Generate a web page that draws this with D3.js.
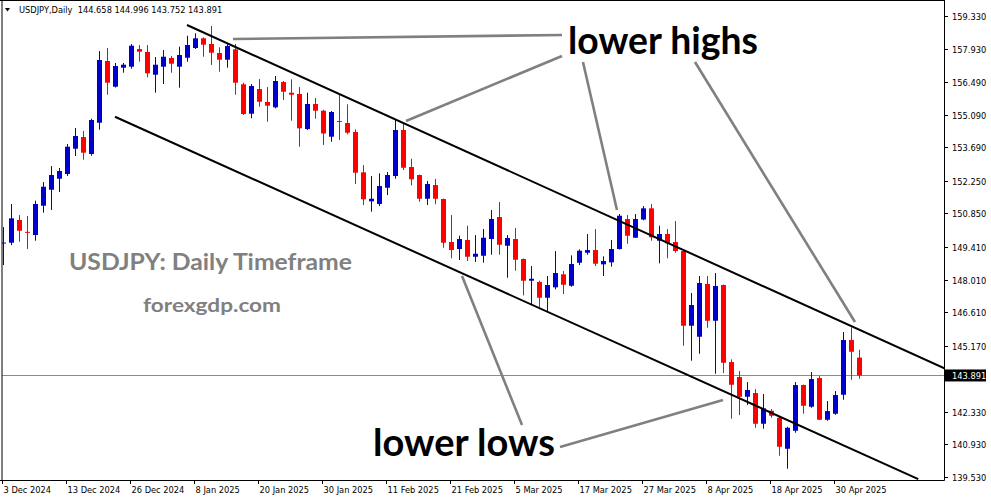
<!DOCTYPE html>
<html><head><meta charset="utf-8">
<script src="https://cdn.jsdelivr.net/npm/d3@7/dist/d3.min.js"></script>
<style>
html,body{margin:0;padding:0;background:#fff;}
svg{display:block;}
</style></head>
<body><svg id="c" width="991" height="501"></svg>
<script>
// ---- DATA ----
const dates = [
"2024-12-03","2024-12-04","2024-12-05","2024-12-06","2024-12-09","2024-12-10","2024-12-11","2024-12-12","2024-12-13","2024-12-16",
"2024-12-17","2024-12-18","2024-12-19","2024-12-20","2024-12-23","2024-12-24","2024-12-26","2024-12-27","2024-12-30","2024-12-31",
"2025-01-02","2025-01-03","2025-01-06","2025-01-07","2025-01-08","2025-01-09","2025-01-10","2025-01-13","2025-01-14","2025-01-15",
"2025-01-16","2025-01-17","2025-01-20","2025-01-21","2025-01-22","2025-01-23","2025-01-24","2025-01-27","2025-01-28","2025-01-29",
"2025-01-30","2025-01-31","2025-02-03","2025-02-04","2025-02-05","2025-02-06","2025-02-07","2025-02-10","2025-02-11","2025-02-12",
"2025-02-13","2025-02-14","2025-02-17","2025-02-18","2025-02-19","2025-02-20","2025-02-21","2025-02-24","2025-02-25","2025-02-26",
"2025-02-27","2025-02-28","2025-03-03","2025-03-04","2025-03-05","2025-03-06","2025-03-07","2025-03-10","2025-03-11","2025-03-12",
"2025-03-13","2025-03-14","2025-03-17","2025-03-18","2025-03-19","2025-03-20","2025-03-21","2025-03-24","2025-03-25","2025-03-26",
"2025-03-27","2025-03-28","2025-03-31","2025-04-01","2025-04-02","2025-04-03","2025-04-04","2025-04-07","2025-04-08","2025-04-09",
"2025-04-10","2025-04-11","2025-04-14","2025-04-15","2025-04-16","2025-04-17","2025-04-18","2025-04-21","2025-04-22","2025-04-23",
"2025-04-24","2025-04-25","2025-04-28","2025-04-29","2025-04-30","2025-05-01","2025-05-02","2025-05-05"];

const open = [
149.557,149.592,150.567,150.060,149.923,151.181,151.868,152.341,152.543,153.630,
154.132,153.402,154.746,157.397,156.293,157.109,157.152,157.912,157.783,156.808,
157.152,157.526,157.152,157.538,157.955,158.372,158.127,157.740,157.453,157.899,
156.396,155.133,156.194,155.636,155.408,156.495,156.035,155.979,154.476,155.550,
155.262,154.145,154.819,154.734,154.347,152.616,151.370,151.254,151.954,152.457,
154.433,152.844,152.500,151.482,152.070,151.469,149.622,149.321,149.708,148.990,
149.033,149.751,150.696,149.463,149.751,148.892,147.960,147.904,147.229,147.676,
148.234,147.745,148.733,149.162,149.278,148.664,148.750,149.321,150.610,149.807,
150.588,151.069,149.678,149.966,149.622,149.235,146.027,145.554,147.818,146.241,
147.775,144.467,143.823,142.977,143.136,141.817,142.375,142.075,140.743,141.516,
143.479,142.547,143.780,141.989,142.247,143.063,145.412,144.658];

const high = [
150.266,151.254,150.782,150.739,151.396,152.199,152.886,152.801,153.831,154.519,
154.390,154.918,157.826,157.955,157.311,157.311,158.127,158.084,158.084,157.569,
157.869,157.612,158.011,158.483,158.587,158.415,158.900,157.985,158.157,158.127,
156.465,156.409,156.624,156.280,156.752,156.538,156.611,156.280,156.035,155.807,
155.305,155.249,155.936,155.537,154.463,152.929,152.457,152.573,152.629,154.862,
154.721,153.200,152.521,152.242,152.328,151.490,150.782,149.892,150.322,149.923,
150.180,150.996,151.340,149.923,150.223,148.913,148.591,147.960,148.161,149.235,
148.376,149.050,149.308,149.966,150.180,149.008,149.708,150.825,150.782,150.825,
151.168,151.254,150.322,150.180,150.524,149.257,147.431,148.161,148.161,148.290,
147.796,144.583,144.081,143.608,143.308,143.093,142.448,142.118,141.688,143.608,
143.501,144.038,143.866,142.792,143.222,145.756,145.958,144.996];

const low = [
148.634,149.493,149.635,149.321,149.678,150.880,150.996,151.770,152.457,153.316,
153.157,153.329,154.446,155.949,156.258,156.894,157.066,157.367,156.697,156.035,
156.409,156.894,156.250,157.367,157.912,157.581,157.225,156.937,157.109,155.949,
155.077,154.935,155.434,154.789,155.365,155.721,154.832,153.715,154.433,154.918,
153.789,153.930,154.003,154.248,152.113,151.211,150.924,151.168,151.641,152.341,
152.715,152.057,151.353,151.211,151.241,149.377,148.922,148.849,148.806,148.763,
148.733,149.076,149.076,148.088,148.389,147.332,146.959,146.817,146.615,147.590,
147.388,147.702,148.634,149.076,148.591,148.161,148.561,149.300,149.549,149.794,
150.554,149.678,148.707,148.922,149.162,145.167,144.523,144.824,145.941,143.965,
143.995,142.032,142.191,142.620,141.645,141.602,142.075,140.442,139.884,141.430,
142.247,142.504,141.976,141.946,142.203,142.848,143.707,143.752];

const close = [
149.600,150.640,150.107,150.030,151.254,151.997,152.500,152.672,153.715,154.175,
153.458,154.862,157.440,156.465,157.182,157.238,158.054,157.796,156.868,157.238,
157.581,157.281,157.654,158.084,158.372,158.097,157.753,157.453,158.041,156.465,
155.120,156.323,155.648,155.477,156.538,156.078,155.949,154.506,155.550,155.262,
154.283,155.206,154.794,154.317,152.599,151.456,151.482,152.027,152.500,154.433,
152.813,152.315,151.482,152.113,151.482,149.592,149.278,149.751,148.990,149.119,
149.807,150.610,149.506,149.794,148.862,147.960,148.045,147.229,147.775,148.290,
147.788,148.677,149.248,149.278,148.690,148.806,149.321,150.752,149.892,150.610,
151.069,149.824,149.966,149.566,149.235,146.027,146.916,147.861,146.241,147.732,
144.437,143.492,142.977,143.265,141.817,142.478,142.161,140.829,141.645,143.479,
142.590,143.737,141.989,142.362,143.050,145.412,144.910,143.891];

const timeTickLabels = ["3 Dec 2024","13 Dec 2024","26 Dec 2024","8 Jan 2025","20 Jan 2025","30 Jan 2025",
  "11 Feb 2025","21 Feb 2025","5 Mar 2025","17 Mar 2025","27 Mar 2025","8 Apr 2025","18 Apr 2025","30 Apr 2025"];
const timeTickDates = ["2024-12-03","2024-12-13","2024-12-26","2025-01-08","2025-01-20","2025-01-30",
  "2025-02-11","2025-02-21","2025-03-05","2025-03-17","2025-03-27","2025-04-08","2025-04-18","2025-04-30"];
const priceTicks = [159.330,157.930,156.490,155.090,153.690,152.250,150.850,149.410,148.010,146.610,145.170,142.330,140.930,139.530];
const lastPrice = 143.891;
const titleText = "USDJPY,Daily  144.658 144.996 143.752 143.891";

// trend channel: [barIndex, price] endpoints
const upperChannel = [[22.96,158.943],[117.84,144.167]];
const lowerChannel = [[13.96,155.004],[114.375,139.442]];
// annotation pointer lines [barIndex, price]
const pointerLines = [
  [[28.71,158.342],[69.84,158.514]],
  [[50.34,154.82],[69.84,157.612]],
  [[72.46,157.354],[76.71,150.997]],
  [[86.46,157.354],[106.46,146.186]],
  [[57.34,148.162],[64.84,141.761]],
  [[69.59,140.816],[89.96,142.835]]
];
const labels = ["lower highs","lower lows","USDJPY: Daily Timeframe","forexgdp.com"];

// ---- CHART ----
const W = 991, H = 501;
const plotL = 2, plotR = 944, plotT = 0, plotB = 480;
const svg = d3.select("#c");
const x = d3.scaleLinear().domain([0, dates.length - 1]).range([3.3, 3.3 + 8 * (dates.length - 1)]);
const y = d3.scaleLinear().domain([139.53, 159.33]).range([477, 16]);
const blue = "#0000cd", red = "#ff0000";

svg.append("rect").attr("width", W).attr("height", H).attr("fill", "#fff");

const defs = svg.append("defs");
defs.append("clipPath").attr("id", "plot").append("rect")
  .attr("x", plotL).attr("y", plotT).attr("width", plotR - plotL).attr("height", plotB - plotT);

const plot = svg.append("g").attr("clip-path", "url(#plot)");

// current price line
plot.append("line").attr("x1", plotL).attr("x2", plotR)
  .attr("y1", Math.round(y(lastPrice)) + 0.5).attr("y2", Math.round(y(lastPrice)) + 0.5)
  .attr("stroke", "#8c8c8c").attr("stroke-width", 1);

// candles
const idx = d3.range(dates.length);
const cg = plot.append("g");
idx.forEach(i => {
  const up = close[i] >= open[i];
  const col = up ? blue : red;
  const cx = Math.round(x(i)) + 0.5;
  cg.append("line").attr("x1", cx).attr("x2", cx)
    .attr("y1", y(high[i])).attr("y2", y(low[i]))
    .attr("stroke", col).attr("stroke-width", 1);
  const top = y(Math.max(open[i], close[i])), bot = y(Math.min(open[i], close[i]));
  cg.append("rect").attr("x", cx - 2.5).attr("width", 5)
    .attr("y", top).attr("height", Math.max(1, bot - top)).attr("fill", col);
});

// channel lines
const lineGen = d3.line().x(d => x(d[0])).y(d => y(d[1]));
[upperChannel, lowerChannel].forEach(l => {
  plot.append("path").attr("d", lineGen(l)).attr("stroke", "#000").attr("stroke-width", 2).attr("fill", "none");
});
// pointer lines
pointerLines.forEach(l => {
  plot.append("path").attr("d", lineGen(l)).attr("stroke", "#808080").attr("stroke-width", 2.6)
    .attr("fill", "none").attr("stroke-linecap", "butt");
});

// annotation texts
const bigFont = "Lato, 'Open Sans', sans-serif";
function addText(t, px, py, size, color, width) {
  plot.append("text").attr("x", px).attr("y", py).text(t)
    .attr("font-family", bigFont).attr("font-weight", "bold")
    .attr("font-size", size).attr("fill", color)
    .attr("textLength", width).attr("lengthAdjust", "spacingAndGlyphs");
}
addText(labels[0], 568, 54, 38, "#000", 190);
addText(labels[1], 373, 456, 38, "#000", 182);
addText(labels[2], 69, 270, 23, "#808080", 283);
addText(labels[3], 143, 312, 19, "#808080", 138);

// frame
svg.append("line").attr("x1", plotR + 0.5).attr("x2", plotR + 0.5).attr("y1", 0).attr("y2", plotB + 0.5).attr("stroke", "#000");
svg.append("line").attr("x1", 0).attr("x2", plotR + 0.5).attr("y1", plotB + 0.5).attr("y2", plotB + 0.5).attr("stroke", "#000");
svg.append("line").attr("x1", 0).attr("x2", plotR).attr("y1", 0.5).attr("y2", 0.5).attr("stroke", "#000");
svg.append("line").attr("x1", 2).attr("x2", 2).attr("y1", 0).attr("y2", plotB).attr("stroke", "#000");

// right axis
const axFont = "Tahoma, 'DejaVu Sans Condensed', 'Liberation Sans', sans-serif";
const ra = svg.append("g");
priceTicks.forEach(v => {
  const yy = Math.round(y(v)) + 0.5;
  ra.append("line").attr("x1", plotR).attr("x2", plotR + 4).attr("y1", yy).attr("y2", yy).attr("stroke", "#000");
  ra.append("text").attr("x", 952).attr("y", yy + 3.5).text(v.toFixed(3))
    .attr("font-family", axFont).attr("font-size", 9.2).attr("fill", "#000");
});
// last price box
const ly = y(lastPrice);
ra.append("rect").attr("x", 945).attr("y", ly - 6).attr("width", 41).attr("height", 12).attr("fill", "#000");
ra.append("text").attr("x", 952).attr("y", ly + 3.5).text(lastPrice.toFixed(3))
  .attr("font-family", axFont).attr("font-size", 9.2).attr("fill", "#fff");

// bottom axis
const ba = svg.append("g");
timeTickDates.forEach((d, k) => {
  const i = dates.indexOf(d);
  const xx = Math.round(x(i)) - 0.5;
  ba.append("line").attr("x1", xx).attr("x2", xx).attr("y1", plotB).attr("y2", plotB + 4).attr("stroke", "#000");
  ba.append("text").attr("x", xx + 1).attr("y", 493).text(timeTickLabels[k])
    .attr("font-family", axFont).attr("font-size", 9.2).attr("fill", "#000");
});

// title
svg.append("path").attr("d", "M5,8 L10,8 L7.5,11.5 Z").attr("fill", "#000");
svg.append("text").attr("x", 19).attr("y", 13).text(titleText)
  .attr("font-family", axFont).attr("font-size", 9.2).attr("fill", "#000")
  .attr("xml:space", "preserve").style("white-space", "pre");
</script>
</body></html>
